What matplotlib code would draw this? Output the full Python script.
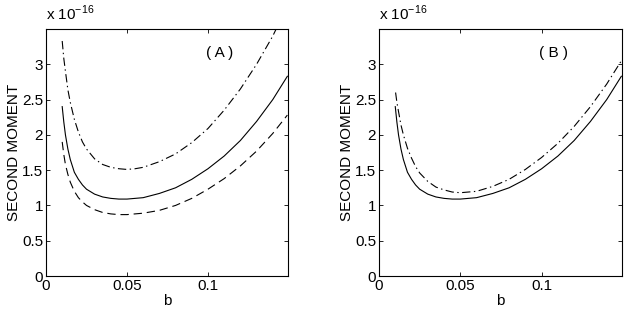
import numpy as np
import matplotlib
matplotlib.use("Agg")
import matplotlib.pyplot as plt

# values, second moment in units of 1e-16
b = [0.010, 0.011, 0.012, 0.0135, 0.015, 0.0175, 0.02, 0.0225, 0.025, 0.03,
     0.035, 0.04, 0.045, 0.05, 0.055, 0.06, 0.07, 0.08, 0.09, 0.10,
     0.11, 0.12, 0.13, 0.14, 0.149]
solid = [2.40, 2.18, 2.00, 1.80, 1.65, 1.47, 1.37, 1.29, 1.23, 1.16,
         1.12, 1.10, 1.09, 1.09, 1.10, 1.11, 1.17, 1.25, 1.37, 1.52,
         1.70, 1.92, 2.19, 2.50, 2.83]
dashed_a = [1.90, 1.72, 1.58, 1.44, 1.33, 1.20, 1.11, 1.05, 1.00, 0.94,
            0.90, 0.88, 0.87, 0.87, 0.88, 0.89, 0.93, 1.00, 1.10, 1.23,
            1.38, 1.56, 1.77, 2.02, 2.28]
b_dd_a = [0.010, 0.011, 0.012, 0.0135, 0.015, 0.0175, 0.02, 0.0225, 0.025, 0.03,
          0.035, 0.04, 0.045, 0.05, 0.055, 0.06, 0.07, 0.08, 0.09, 0.10,
          0.11, 0.12, 0.13, 0.14, 0.1425]
dashdot_a = [3.33, 3.08, 2.90, 2.64, 2.46, 2.22, 2.04, 1.90, 1.80, 1.66,
             1.58, 1.54, 1.52, 1.51, 1.52, 1.54, 1.62, 1.73, 1.89, 2.09,
             2.35, 2.65, 3.00, 3.40, 3.52]
b_dd_b = [0.0102, 0.011, 0.012, 0.0135, 0.015, 0.0175, 0.02, 0.0225, 0.025, 0.03,
          0.035, 0.04, 0.045, 0.05, 0.055, 0.06, 0.07, 0.08, 0.09, 0.10,
          0.11, 0.12, 0.13, 0.14, 0.149]
dashdot_b = [2.60, 2.46, 2.33, 2.14, 2.00, 1.81, 1.67, 1.55, 1.46, 1.34,
             1.26, 1.22, 1.19, 1.18, 1.19, 1.20, 1.27, 1.37, 1.51, 1.68,
             1.88, 2.12, 2.40, 2.72, 3.05]

xticks = [0, 0.05, 0.1]
xticklabels = ["0", "0.05", "0.1"]
yticks = [0, 0.5, 1, 1.5, 2, 2.5, 3]
yticklabels = ["0", "0.5", "1", "1.5", "2", "2.5", "3"]

plt.rcParams.update({
    "font.family": ["Liberation Sans", "DejaVu Sans"],
    "mathtext.fontset": "custom",
    "mathtext.rm": "Liberation Sans",
    "lines.scale_dashes": False,
    "xtick.direction": "in", "ytick.direction": "in",
    "xtick.top": True, "ytick.right": True,
})

DASH = (0, (6, 3.5))
DASHDOT = (0, (6, 2.5, 1, 2.5))

fig = plt.figure(figsize=(6.27, 3.16), dpi=100)
axA = fig.add_axes([46 / 627, 1 - 276 / 316, 242 / 627, 247 / 316])
axB = fig.add_axes([379 / 627, 1 - 276 / 316, 243 / 627, 247 / 316])

axA.plot(b, solid, color="black", lw=0.8)
axA.plot(b, dashed_a, color="black", lw=0.8, ls=DASH)
axA.plot(b_dd_a, dashdot_a, color="black", lw=0.8, ls=DASHDOT)

axB.plot(b, solid, color="black", lw=0.8)
axB.plot(b_dd_b, dashdot_b, color="black", lw=0.8, ls=DASHDOT)

for ax, tag in ((axA, "( A )"), (axB, "( B )")):
    ax.set_xlim(0, 0.1494)
    ax.set_ylim(0, 3.5)
    ax.set_xticks(xticks, xticklabels)
    ax.set_yticks(yticks, yticklabels)
    ax.tick_params(labelsize=11, length=3, width=0.6, pad=2)
    for s in ax.spines.values():
        s.set_linewidth(0.8)
    ax.set_xlabel("b", fontsize=11, labelpad=1)
    ax.set_ylabel("SECOND MOMENT", fontsize=11, labelpad=1)
    ax.text(0.107, 3.16, tag, ha="center", va="center", fontsize=11)
    ax.text(0, 1.025, r"x 10$^{-16}$", transform=ax.transAxes,
            ha="left", va="bottom", fontsize=11)

fig.savefig("out.png", dpi=100, facecolor="white")
